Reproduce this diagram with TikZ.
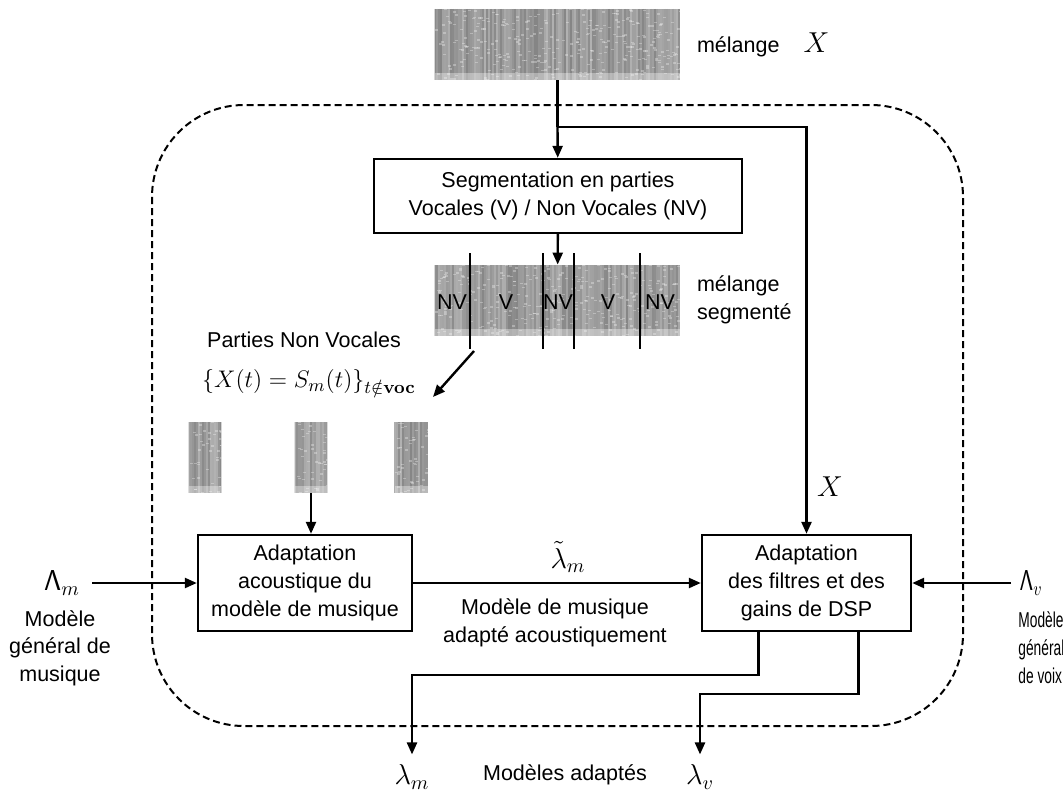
\documentclass[tikz,border=0pt]{standalone}
\usepackage[no-math]{fontspec}
\usepackage{graphicx}
\setmainfont{Liberation Sans}
\usetikzlibrary{arrows.meta,positioning,calc}
\tikzstyle{bloc} = [rectangle, draw, line width=1.2pt, align=center, inner sep=2pt]
\tikzstyle{specbg} = [rectangle, fill=black!38, inner sep=0pt]
\tikzstyle{line} = [draw, -{Triangle[length=6pt,width=5pt]}, line width=1.2pt]
\tikzstyle{seg} = [draw, line width=1.2pt]
\tikzstyle{txt} = [align=center, inner sep=1pt]
\tikzstyle{mth} = [inner sep=1pt, font=\fontsize{14}{16}\selectfont]
% spectrogramme : nom, x, y, largeur, hauteur
\newcommand{\spectro}[5]{%
  \node[specbg, minimum width=#4*0.5pt, minimum height=#5*0.5pt] (#1) at (#2,#3) {};
  \begin{scope}
    \clip (#1.south west) rectangle (#1.north east);
    \pgfmathtruncatemacro{\nst}{#4/2}
    \foreach \k in {0,...,\nst}{
      \pgfmathsetmacro{\xs}{#2-#4/2+\k*2}
      \pgfmathsetmacro{\gv}{30+18*rnd}
      \draw[black!\gv, line width=1pt] (\xs,#3-#5/2) -- (\xs,#3+#5/2);
    }
    \pgfmathtruncatemacro{\ndt}{#4/50*#5}
    \foreach \k in {1,...,\ndt}{
      \pgfmathsetmacro{\xs}{#2-#4/2+rnd*#4}
      \pgfmathsetmacro{\ys}{#3-#5/2+rnd*#5}
      \draw[white, opacity=.3, line width=0.7pt] (\xs,\ys) -- ++(3,0);
    }
    \fill[white, opacity=.35] (#2-#4/2,#3+#5/2-7) rectangle (#2+#4/2,#3+#5/2);
  \end{scope}
}

\begin{document}
\begin{tikzpicture}[x=0.5pt, y=-0.5pt, font=\fontsize{10.75}{13.8}\selectfont]
\useasboundingbox (0,0) rectangle (1063,792);
\pgfmathsetseed{4217}
% spectrogrammes
\spectro{mix}{557.5}{44.5}{245}{71}
\spectro{mixseg}{557.5}{300.5}{245}{71}
\spectro{nv1}{205}{457.5}{32}{71}
\spectro{nv2}{311}{457.5}{32}{71}
\spectro{nv3}{411}{457.5}{33}{71}

% cadre du systeme
\draw[dash pattern=on 3.5pt off 2pt, line width=1pt, rounded corners=46pt] (152,105) rectangle (963,726);

% Place nodes
\node[anchor=west] (melX) at (690,45) {mélange\hspace{12pt}{\fontsize{14}{16}\selectfont$X$}};
\node[bloc, minimum width=184pt, minimum height=37pt] (segm) at (558,196)
  {Segmentation en parties\\Vocales (V) / Non Vocales (NV)};
\foreach \lab/\xp in {NV/452, V/506, NV/558, V/608, NV/660}
  \node (lab-\xp) at (\xp,302) {\lab};
\foreach \xp in {470,543,574,640}
  \draw[seg] (\xp,253) -- (\xp,349);
\node[anchor=west, align=left] (melseg) at (690,300) {mélange\\segmenté};
\node[txt] (parties) at (304,340) {Parties Non Vocales};
\node[mth, font=\fontsize{12.6}{15}\selectfont] (formule) at (309,382) {$\{X(t)=S_m(t)\}_{t\notin\mathbf{voc}}$};

\node[bloc, minimum width=107pt, minimum height=48pt] (acou) at (305,583)
  {Adaptation\\acoustique du\\modèle de musique};
\node[bloc, minimum width=104.5pt, minimum height=48pt] (dsp) at (806.5,583)
  {Adaptation\\des filtres et des\\gains de DSP};

\node[mth] (Lm) at (62,583) {$\mathsf{\Lambda}_m$};
\node[txt] (Lmtxt) at (60,648) {Modèle\\général de\\musique};
\node[mth] (Lv) at (1031,583) {\scalebox{0.8}[1]{$\mathsf{\Lambda}_v$}};
\node[anchor=west, inner sep=0pt] (Lvtxt) at (1018,650)
  {\scalebox{0.64}[1]{\begin{tabular}{@{}l@{}}Modèle\\général\\de voix\end{tabular}}};
\node[mth] (lt) at (568,557) {$\tilde\lambda_m$};
\node[txt] (adtxt) at (555,623) {Modèle de musique\\adapté acoustiquement};
\node[mth] (Xlab) at (830,487) {$X$};
\node[mth] (lm) at (412,777) {$\lambda_m$};
\node[txt] (adapt) at (565,775) {Modèles adaptés};
\node[mth] (lv) at (700,777) {$\lambda_v$};

% connexions
\coordinate (split) at (557.5,127);
\coordinate (nvout) at (474,351);
\coordinate (nvin) at (433,397);
\path[seg] (mix) -- (split);
\path[line] (split) -- (segm);
\path[line] (split) -| (dsp);
\path[line] (segm) -- (mixseg);
\path[line] (nvout) -- (nvin);
\path[line] (nv2) -- (nv2 |- acou.north);
\path[line] ([xshift=5pt]Lm.east) -- (acou);
\path[line] (acou) -- (dsp);
\path[line] ([xshift=-3pt]Lv.west) -- (dsp);
\path[line] ([xshift=-24pt]dsp.south) -- ++(0,43) -| ([yshift=4pt]lm.north);
\path[line] ([xshift=26pt]dsp.south) -- ++(0,62) -| ([yshift=4pt]lv.north);
\end{tikzpicture}
\end{document}
